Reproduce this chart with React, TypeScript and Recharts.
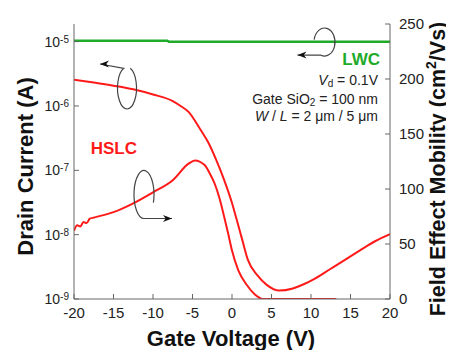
import React from 'react';
import { ComposedChart, Line, XAxis, YAxis, ReferenceDot, Customized } from 'recharts';

const FONT = '"Liberation Sans", Arial, Helvetica, sans-serif';
const RED = '#ff1a1a';
const GREEN = '#1faa2a';
const AXIS = '#666666';

// Gate voltage (V) and drain current (A) for HSLC
const hslcCurV = [-20, -17.5, -15, -12.5, -10, -7.5, -6.5, -5.5, -4, -3, -2, -1, 0, 0.6, 1.3, 2, 3.2, 4.4, 6, 7.7, 9, 10.5, 12.4, 14.3, 16.2, 18.1, 20];
const hslcCurI = [2.55e-6, 2.31e-6, 2.07e-6, 1.82e-6, 1.51e-6, 1.19e-6, 1.0e-6, 8.1e-7, 4.3e-7, 2.7e-7, 1.45e-7, 7.1e-8, 3.1e-8, 1.7e-8, 8.3e-9, 4.1e-9, 2.35e-9, 1.66e-9, 1.35e-9, 1.46e-9, 1.68e-9, 2.08e-9, 2.9e-9, 4.05e-9, 5.7e-9, 7.9e-9, 1.02e-8];

// Gate voltage (V) and field effect mobility (cm2/Vs) for HSLC
const hslcMobV = [-20, -19.6, -19.2, -18.8, -18.4, -18, -17.5, -15, -12.5, -10, -7.5, -5.5, -4.7, -3.5, -2.8, -2.2, -1.6, -1.0, -0.5, 0, 0.8, 1.9, 2.9, 3.9, 8, 13.2];
const hslcMobMu = [62, 67, 66, 70, 69, 73, 74, 79, 87, 97, 108, 123, 126, 122, 114, 105, 92, 75, 60, 44, 26, 12.5, 4, 0, 0, 0];

// LWC drain current
const lwcV = [-20, -8.2, -8.0, 20];
const lwcI = [1.035e-5, 1.035e-5, 1.0e-5, 1.0e-5];

const xTicks = [-20, -15, -10, -5, 0, 5, 10, 15, 20];
const currentTicks = [1e-9, 1e-8, 1e-7, 1e-6, 1e-5];
const mobilityTicks = [0, 50, 100, 150, 200, 250];

// rotating-arrow annotations: [gate voltage, mobility, kind]
const arrowMarks: [number, number, string][] = [
  [-13.29, 191.8, 'leftTop'],
  [-11.14, 95, 'rightBottom'],
  [11.71, 233.6, 'leftBottom'],
];

const curData = hslcCurV.map((v, i) => ({ v, cur: hslcCurI[i] }));
const mobData = hslcMobV.map((v, i) => ({ v, mob: hslcMobMu[i] }));
const lwcData = lwcV.map((v, i) => ({ v, cur: lwcI[i] }));

const pt = (cx: number, cy: number, rx: number, ry: number, deg: number) => {
  const a = (deg * Math.PI) / 180;
  return [cx + rx * Math.cos(a), cy + ry * Math.sin(a)];
};

const head = (tx: number, ty: number, dir: number) => {
  const l = 9 * dir;
  return `M${tx},${ty} L${tx + l},${ty - 3.5} L${tx + l * 0.7},${ty} L${tx + l},${ty + 3.5} Z`;
};

const RotArrow = (props: any) => {
  const { cx, cy, kind } = props;
  if (cx == null || cy == null) return null;
  let d = '';
  let h = '';
  if (kind === 'leftTop') {
    const rx = 9.5, ry = 21;
    const [sx, sy] = pt(cx, cy, rx, ry, -70);
    const [ex, ey] = pt(cx, cy, rx, ry, 250);
    d = `M${sx},${sy} A${rx},${ry} 0 1 1 ${ex},${ey} L${cx - 27},${cy - ry - 3}`;
    h = head(cx - 27, cy - ry - 3, 1);
  } else if (kind === 'rightBottom') {
    const rx = 10, ry = 24;
    const [sx, sy] = pt(cx, cy, rx, ry, 90);
    const [ex, ey] = pt(cx, cy, rx, ry, 380);
    d = `M${ex},${ey} A${rx},${ry} 0 1 0 ${sx},${sy} L${cx + 28},${cy + ry}`;
    h = head(cx + 28, cy + ry, -1);
  } else {
    const rx = 10.5, ry = 14;
    const [sx, sy] = pt(cx, cy, rx, ry, 110);
    const [ex, ey] = pt(cx, cy, rx, ry, 190);
    d = `M${ex},${ey} A${rx},${ry} 0 1 1 ${sx},${sy} L${cx - 27},${cy + ry - 1}`;
    h = head(cx - 27, cy + ry - 1, 1);
  }
  return (
    <g>
      <path d={d} fill="none" stroke="#444" strokeWidth={1.2} />
      <path d={h} fill="#111" stroke="none" />
    </g>
  );
};

const LogTick = (props: any) => {
  const { x, y, payload } = props;
  const exp = Math.round(Math.log10(payload.value));
  return (
    <text x={x} y={y} textAnchor="end" fontSize={14} fill="#222" fontFamily={FONT}>
      <tspan dy={5}>10</tspan>
      <tspan dy={-4} fontSize={10}>{`${exp}`}</tspan>
    </text>
  );
};

const Annotations = () => (
  <g fontFamily={FONT}>
    <text x={223} y={338} textAnchor="middle" fontSize={22} fontWeight="bold" fill="#111">
      Gate Voltage (V)
    </text>
    <text x={25} y={158.5} transform="rotate(-90 25 158.5)" textAnchor="middle" fontSize={22} fontWeight="bold" fill="#111">
      Drain Current (A)
    </text>
    <text x={437} y={161} transform="rotate(-90 437 161)" textAnchor="middle" fontSize={21.5} fontWeight="bold" fill="#111">
      <tspan>Field Effect Mobility (cm</tspan>
      <tspan fontSize={14} dy={-9}>2</tspan>
      <tspan dy={9}>/Vs)</tspan>
    </text>
    <text x={82.7} y={146} fontSize={17} fontWeight="bold" fill={RED}>HSLC</text>
    <text x={372} y={57} textAnchor="end" fontSize={17} fontWeight="bold" fill={GREEN}>LWC</text>
    <text x={370} y={77} textAnchor="end" fontSize={14} fill="#222">
      <tspan fontStyle="italic">V</tspan>
      <tspan fontSize={10} dy={2}>d</tspan>
      <tspan dy={-2}> = 0.1V</tspan>
    </text>
    <text x={370} y={96} textAnchor="end" fontSize={14} fill="#222">
      <tspan>Gate SiO</tspan>
      <tspan fontSize={10} dy={2}>2</tspan>
      <tspan dy={-2}> = 100 nm</tspan>
    </text>
    <text x={370} y={113} textAnchor="end" fontSize={14} fill="#222">
      <tspan fontStyle="italic">W</tspan>
      <tspan> / </tspan>
      <tspan fontStyle="italic">L</tspan>
      <tspan> = 2 μm / 5 μm</tspan>
    </text>
  </g>
);

export default function App() {
  return (
    <ComposedChart width={446} height={342} margin={{ top: 16, right: 0, bottom: 0, left: 0 }} style={{ overflow: 'visible' }}>
      <XAxis
        xAxisId="bottom"
        dataKey="v"
        type="number"
        domain={[-20, 20]}
        ticks={xTicks}
        allowDataOverflow
        height={51}
        stroke={AXIS}
        tickSize={-5}
        tickMargin={13}
        tick={{ fontSize: 15, fill: '#222', fontFamily: FONT }}
        tickFormatter={(v: number) => String(v)}
      />
      <XAxis
        xAxisId="top"
        orientation="top"
        dataKey="v"
        type="number"
        domain={[-20, 20]}
        ticks={xTicks}
        height={0}
        stroke={AXIS}
        tickSize={-5}
        tickFormatter={() => ''}
      />
      <YAxis
        yAxisId="cur"
        orientation="left"
        type="number"
        scale="log"
        domain={[1e-9, 1.88e-5]}
        ticks={currentTicks}
        allowDataOverflow
        width={66}
        stroke={AXIS}
        tickSize={-5}
        tickMargin={10}
        tick={<LogTick />}
      />
      <YAxis
        yAxisId="mob"
        orientation="right"
        type="number"
        domain={[0, 250]}
        ticks={mobilityTicks}
        allowDataOverflow
        width={64}
        stroke={AXIS}
        tickSize={-5}
        tickMargin={14}
        tick={{ fontSize: 15, fill: '#222', fontFamily: FONT }}
      />
      <Line data={lwcData} dataKey="cur" xAxisId="bottom" yAxisId="cur" type="linear" stroke={GREEN} strokeWidth={2.5} dot={false} isAnimationActive={false} />
      <Line data={curData} dataKey="cur" xAxisId="bottom" yAxisId="cur" type="monotone" stroke={RED} strokeWidth={2} dot={false} isAnimationActive={false} />
      <Line data={mobData} dataKey="mob" xAxisId="bottom" yAxisId="mob" type="monotone" stroke={RED} strokeWidth={2} dot={false} isAnimationActive={false} />
      {arrowMarks.map(([v, m, kind]) => (
        <ReferenceDot
          key={kind}
          x={v}
          y={m}
          xAxisId="bottom"
          yAxisId="mob"
          r={1}
          shape={(p: any) => <RotArrow cx={p.cx} cy={p.cy} kind={kind} />}
        />
      ))}
      <Customized component={Annotations} />
    </ComposedChart>
  );
}
